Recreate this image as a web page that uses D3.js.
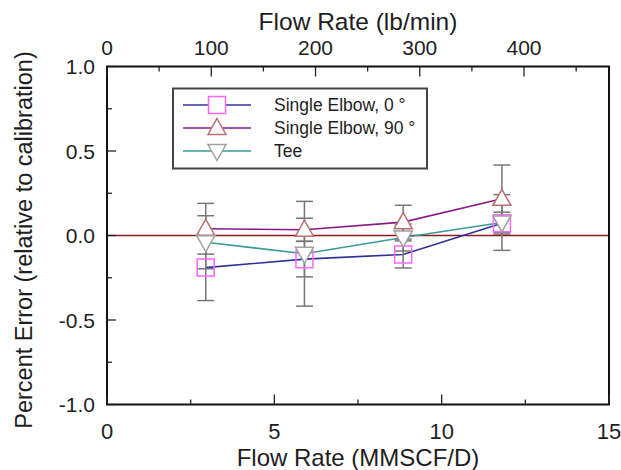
<!DOCTYPE html>
<html>
<head>
<meta charset="utf-8">
<script src="https://cdn.jsdelivr.net/npm/d3@7"></script>
<style>
body { margin: 0; background: #fff; }
text { font-family: "Liberation Sans", Arial, sans-serif; fill: #1e1e1e; }
</style>
</head>
<body>
<div id="chart"></div>
<script>
// flow rates (MMSCF/D) where each run was made
var flows = [2.95, 5.9, 8.85, 11.8];

var elbow0 = [-0.19, -0.14, -0.112, 0.073];
var elbow0Err = [0.195, 0.105, 0.08, 0.065];

var elbow90 = [0.04, 0.034, 0.079, 0.217];
var elbow90Err = [0.15, 0.068, 0.10, 0.20];

var tee = [-0.04, -0.108, -0.012, 0.077];
var teeErr = [0.157, 0.31, 0.08, 0.165];

var seriesNames = ["Single Elbow, 0 \u00b0", "Single Elbow, 90 \u00b0", "Tee"];
var bottomTicks = [0, 5, 10, 15];
var topTicks = [0, 100, 200, 300, 400];
var yTicks = [-1, -0.5, 0, 0.5, 1];

var W = 621, H = 470;
// NOTE: "top" is a reserved window global, so plot edges get a prefix
var pL = 107, pR = 609, pT = 66.5, pB = 404.5;

var svg = d3.select("#chart").append("svg").attr("width", W).attr("height", H);

var x = d3.scaleLinear().domain([0, 15]).range([pL, pR]);
var xTop = d3.scaleLinear().domain([0, 481.5]).range([pL, pR]);
var y = d3.scaleLinear().domain([-1, 1]).range([pB, pT]);

var series = [
  {name: seriesNames[0], vals: elbow0, err: elbow0Err, line: "#30309a", stroke: "#ff66ff", shape: "square"},
  {name: seriesNames[1], vals: elbow90, err: elbow90Err, line: "#8a1a8a", stroke: "#b87070", shape: "up"},
  {name: seriesNames[2], vals: tee, err: teeErr, line: "#3a9a9a", stroke: "#a0a0a0", shape: "down"}
];

function markerPath(shape) {
  if (shape == "square") return "M-8.5,-8.5h17v17h-17z";
  if (shape == "up") return "M0,-9.5L9,6.5L-9,6.5z";
  return "M0,9.5L9,-6.5L-9,-6.5z";
}

// zero reference line
svg.append("line")
  .attr("x1", pL).attr("x2", pR)
  .attr("y1", y(0)).attr("y2", y(0))
  .attr("stroke", "#8b1c1c").attr("stroke-width", 1.5);

// connecting lines
var lineGen = d3.line().x(function(d, i) { return x(flows[i]); }).y(function(d) { return y(d); });
series.forEach(function(s) {
  svg.append("path").attr("d", lineGen(s.vals))
    .attr("fill", "none").attr("stroke", s.line).attr("stroke-width", 1.6);
});

// error bars then markers
series.forEach(function(s) {
  for (var i = 0; i < flows.length; i++) {
    var cx = x(flows[i]);
    var y1 = y(s.vals[i] + s.err[i]), y2 = y(s.vals[i] - s.err[i]);
    var g = svg.append("g").attr("stroke", "#777").attr("stroke-width", 1.5);
    g.append("line").attr("x1", cx).attr("x2", cx).attr("y1", y1).attr("y2", y2);
    g.append("line").attr("x1", cx - 8.5).attr("x2", cx + 8.5).attr("y1", y1).attr("y2", y1);
    g.append("line").attr("x1", cx - 8.5).attr("x2", cx + 8.5).attr("y1", y2).attr("y2", y2);
  }
});
series.forEach(function(s) {
  for (var i = 0; i < flows.length; i++) {
    svg.append("path").attr("d", markerPath(s.shape))
      .attr("transform", "translate(" + x(flows[i]) + "," + y(s.vals[i]) + ")")
      .attr("fill", s.shape == "square" ? "none" : "#fff")
      .attr("stroke", s.stroke).attr("stroke-width", 1.5);
  }
});

// frame
svg.append("rect").attr("x", pL).attr("y", pT)
  .attr("width", pR - pL).attr("height", pB - pT)
  .attr("fill", "none").attr("stroke", "#111").attr("stroke-width", 2);

// ticks, drawn inward
var tk = svg.append("g").attr("stroke", "#222").attr("stroke-width", 1.3);
d3.range(0, 15.01, 2.5).forEach(function(v, i) {
  var len = (i % 2 == 0) ? 10 : 5;
  tk.append("line").attr("x1", x(v)).attr("x2", x(v)).attr("y1", pB).attr("y2", pB - len);
});
d3.range(0, 481, 50).forEach(function(v, i) {
  var len = (i % 2 == 0) ? 10 : 5;
  tk.append("line").attr("x1", xTop(v)).attr("x2", xTop(v)).attr("y1", pT).attr("y2", pT + len);
});
d3.range(-1, 1.01, 0.25).forEach(function(v, i) {
  var len = (i % 2 == 0) ? 9 : 5;
  tk.append("line").attr("x1", pL).attr("x2", pL + len).attr("y1", y(v)).attr("y2", y(v));
});

// tick labels
svg.selectAll(".xb").data(bottomTicks).enter().append("text")
  .attr("x", function(d) { return x(d); }).attr("y", 439)
  .attr("text-anchor", "middle").attr("font-size", 22)
  .text(function(d) { return d; });
svg.selectAll(".xt").data(topTicks).enter().append("text")
  .attr("x", function(d) { return xTop(d); }).attr("y", 55)
  .attr("text-anchor", "middle").attr("font-size", 21)
  .text(function(d) { return d; });
svg.selectAll(".yl").data(yTicks).enter().append("text")
  .attr("x", 95).attr("y", function(d) { return y(d); }).attr("dy", "0.36em")
  .attr("text-anchor", "end").attr("font-size", 21)
  .text(function(d) { return d3.format(".1f")(d).replace("\u2212", "-"); });

// axis titles
svg.append("text").attr("x", (pL + pR) / 2).attr("y", 466)
  .attr("text-anchor", "middle").attr("font-size", 24).text("Flow Rate (MMSCF/D)");
svg.append("text").attr("x", (pL + pR) / 2).attr("y", 30)
  .attr("text-anchor", "middle").attr("font-size", 24.5).text("Flow Rate (lb/min)");
svg.append("text").attr("transform", "translate(32,240) rotate(-90)")
  .attr("text-anchor", "middle").attr("font-size", 23.5).text("Percent Error (relative to calibration)");

// legend
var lg = svg.append("g");
lg.append("rect").attr("x", 173).attr("y", 88.5).attr("width", 254).attr("height", 80)
  .attr("fill", "#fff").attr("stroke", "#444").attr("stroke-width", 2);
series.forEach(function(s, i) {
  var ly = 105 + i * 23;
  lg.append("line").attr("x1", 183).attr("x2", 251).attr("y1", ly).attr("y2", ly)
    .attr("stroke", s.line).attr("stroke-width", 1.6);
  lg.append("path").attr("d", markerPath(s.shape))
    .attr("transform", "translate(217," + ly + ")")
    .attr("fill", "#fff").attr("stroke", s.stroke).attr("stroke-width", 1.5);
  lg.append("text").attr("x", 274).attr("y", ly).attr("dy", "0.35em")
    .attr("font-size", 17.5).text(s.name);
});
</script>
</body>
</html>
